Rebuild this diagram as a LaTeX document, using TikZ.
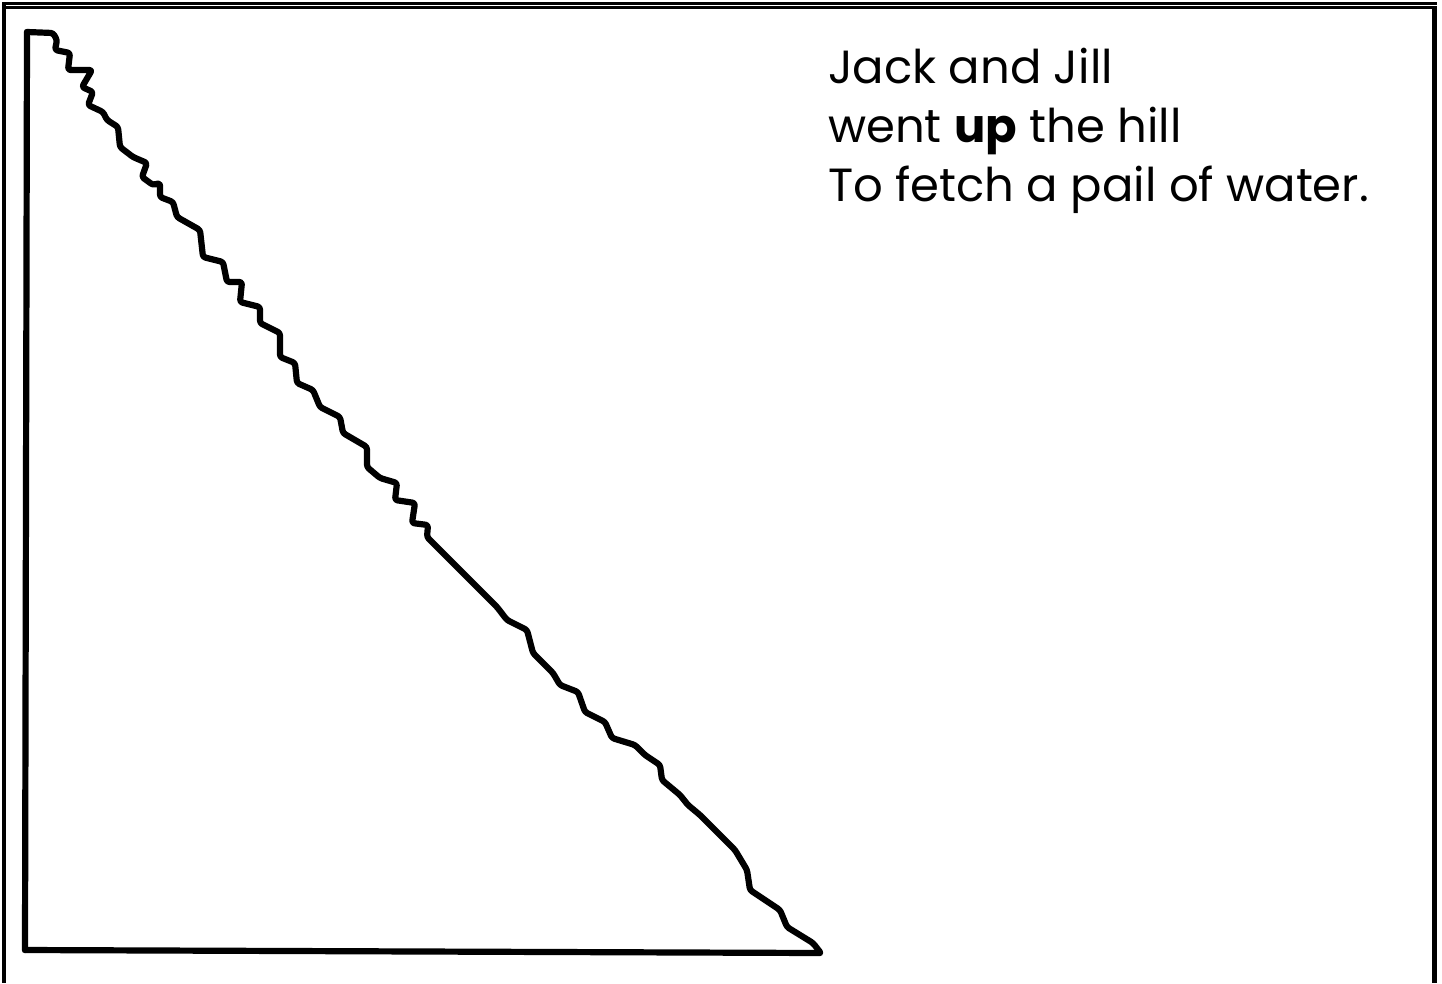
\documentclass[tikz,border=0pt]{standalone}
\usepackage{fontspec}
\setmainfont{Poppins}
\tikzset{
  frameline/.style={line width=#1, line cap=butt},
  sketch/.style={line width=6.2, line join=round, line cap=round},
  verse/.style={anchor=base west, inner sep=0, font=\fontsize{46.5}{55}\selectfont}
}
\begin{document}
\begin{tikzpicture}[x=1pt,y=-1pt]
\useasboundingbox (0,0) rectangle (1442,983);
% frame
\draw[frameline=2.5] (2,3.5) -- (1437,3.5);
\draw[frameline=2.5] (4,7.5) -- (1437,7.5);
\draw[frameline=4] (4,2.5) -- (4,983);
\draw[frameline=5] (1434,6) -- (1434,983);
% hill
\draw[sketch] (25,950) -- (27,32);
\draw[sketch] (25,950) -- (820,953);
\draw[sketch, rounded corners=2.5] (27,32) -- (53,33) -- (57,40) -- (55,50) -- (70,53) -- (68,70) -- (92,70) -- (82,87) -- (93,92) -- (88,105) -- (103,112) -- (107,120) -- (118,127) -- (120,147) -- (133,157) -- (147,163) -- (142,177) -- (153,185) -- (160,183) -- (160,197) -- (173,202) -- (177,217) -- (200,230) -- (203,257) -- (223,262) -- (227,282) -- (242,282) -- (240,302) -- (260,307) -- (260,323) -- (280,333) -- (280,357) -- (295,363) -- (297,383) -- (313,390) -- (320,407) -- (340,417) -- (343,433) -- (367,447) -- (367,467) -- (380,478) -- (397,483) -- (395,500) -- (415,503) -- (412,523) -- (428,525) -- (427,537) -- (460,570) -- (497,607) -- (507,620) -- (527,630) -- (533,653) -- (553,673) -- (560,685) -- (578,692) -- (585,712) -- (605,722) -- (612,738) -- (635,745) -- (645,755) -- (660,765) -- (662,780) -- (680,795) -- (688,805) -- (700,815) -- (715,830) -- (735,850) -- (747,870) -- (750,890) -- (780,910) -- (787,927) -- (813,943) -- (820,952);
% verse
\node[verse] (l1) at (828,83) {Jack and Jill};
\node[verse] (l2) at (828,142) {went \textbf{up} the hill};
\node[verse] (l3) at (828,201) {To fetch a pail of water.};
\end{tikzpicture}
\end{document}
